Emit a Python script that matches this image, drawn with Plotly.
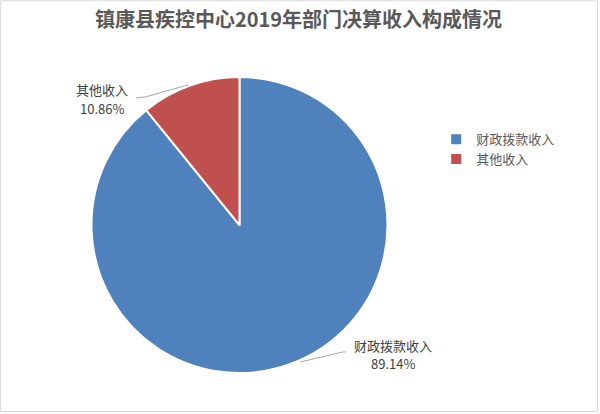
import plotly.graph_objects as go

TITLE = "镇康县疾控中心2019年部门决算收入构成情况"
categories = ["财政拨款收入", "其他收入"]
shares = [89.14, 10.86]
colors = ["#4F81BD", "#C0504D"]

FONT = "Noto Sans CJK SC"
W, H = 600, 414


def px(x, y):
    # pixel position -> paper coords
    return x / W, 1 - y / H


def main():
    pie = go.Pie(
        labels=categories,
        values=shares,
        sort=False,
        direction="clockwise",
        rotation=0,
        marker=dict(colors=colors, line=dict(color="white", width=2)),
        textinfo="none",
        hoverinfo="label+percent",
        domain=dict(x=[0.1525, 0.6458], y=[0.099, 0.814]),
    )
    fig = go.Figure(data=[pie])

    # data labels + leader lines, Excel style
    # (x centre, y of name line, y of percent line) in pixels
    label_xy = [(393, 345, 363), (102, 89, 108)]
    leaders = [
        [(300, 362), (343, 352), (346, 352)],
        [(136, 98), (145, 97), (188, 85)],
    ]
    for name, val, (lx, ly1, ly2), pts in zip(categories, shares, label_xy, leaders):
        for txt, ly in ((name, ly1), (f"{val:.2f}%", ly2)):
            ax_, ay_ = px(lx, ly)
            fig.add_annotation(
                x=ax_, y=ay_, xref="paper", yref="paper",
                xanchor="center", yanchor="middle",
                text=txt, showarrow=False,
                font=dict(family=FONT, size=13, color="#404040"),
            )
        path = " ".join(
            ("M" if i == 0 else "L") + " {:.4f} {:.4f}".format(*px(*p))
            for i, p in enumerate(pts)
        )
        fig.add_shape(type="path", xref="paper", yref="paper", path=path,
                      line=dict(color="#A6A6A6", width=1))

    # chart border
    fig.add_shape(type="rect", xref="paper", yref="paper",
                  x0=0.001, y0=0.006, x1=0.996, y1=0.998,
                  line=dict(color="#D9D9D9", width=1))

    fig.update_layout(
        width=W,
        height=H,
        margin=dict(l=0, r=0, t=0, b=0),
        paper_bgcolor="white",
        plot_bgcolor="white",
        title=dict(
            text=f"<b>{TITLE}</b>",
            x=0.4975, xanchor="center", y=0.952, yanchor="middle",
            font=dict(family=FONT, size=20, color="#595959"),
        ),
        showlegend=True,
        legend=dict(
            x=0.727, y=0.7, xanchor="left", yanchor="top",
            font=dict(family=FONT, size=13, color="#595959"),
            itemwidth=30, tracegroupgap=0,
        ),
        font=dict(family=FONT),
    )
    fig.write_html("out.html", config={"displayModeBar": False},
                   post_script="document.body.style.margin='0';")


if __name__ == "__main__":
    main()
